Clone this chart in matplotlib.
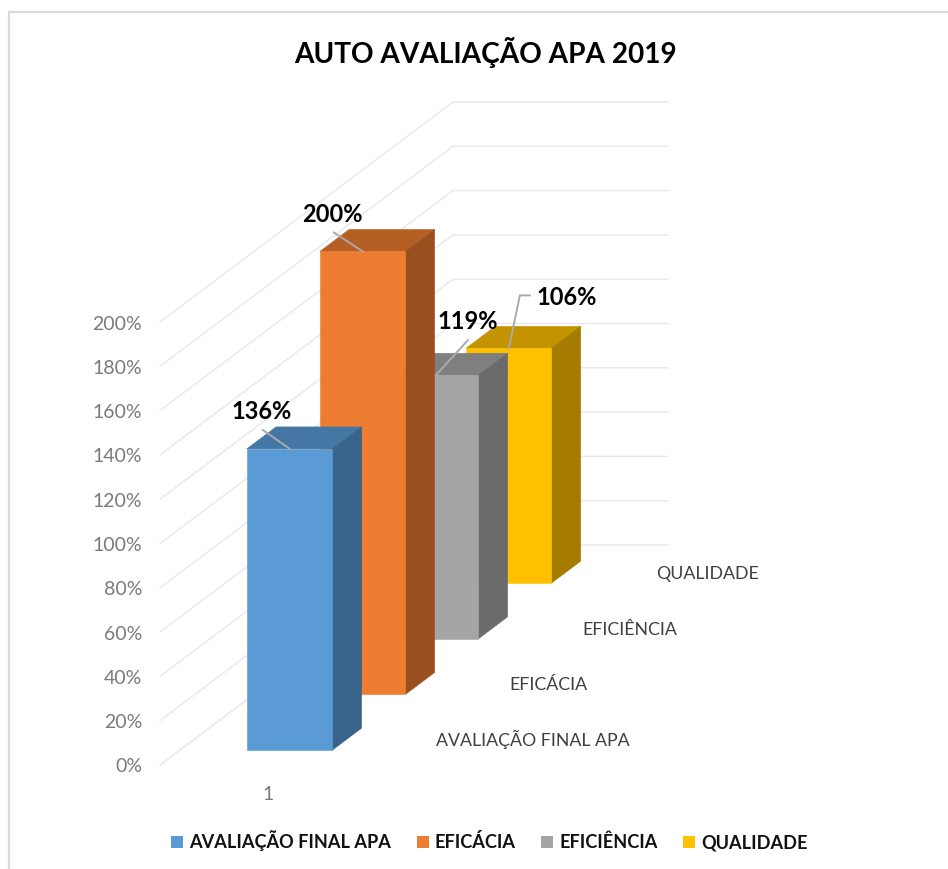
import matplotlib
matplotlib.use("Agg")
import matplotlib.pyplot as plt
from matplotlib.patches import Polygon, Patch
from matplotlib.lines import Line2D

plt.rcParams['font.family'] = ['Lato', 'DejaVu Sans']

title = "AUTO AVALIAÇÃO APA 2019"
series = ["AVALIAÇÃO FINAL APA", "EFICÁCIA", "EFICIÊNCIA", "QUALIDADE"]
values = [136, 200, 119, 106]
labels = ["136%", "200%", "119%", "106%"]
ticks = [0, 20, 40, 60, 80, 100, 120, 140, 160, 180, 200]
colors = ["#5B9BD5", "#ED7D31", "#A5A5A5", "#FFC000"]
top_colors = ["#4577A4", "#B65F25", "#7F7F7F", "#C49300"]
side_colors = ["#38648A", "#9A501E", "#6B6B6B", "#A67C00"]
category = "1"

fig = plt.figure(figsize=(9.48, 8.69), dpi=100, facecolor="white")
ax = fig.add_axes([0, 0, 1, 1])
ax.set_xlim(0, 948)
ax.set_ylim(869, 0)
ax.axis("off")

# oblique projection: x along the category, v = value (%), d = depth (series units)
PX_PER_PCT = 2.215
def proj(x, v, d):
    return (160 + x + 73.25 * d, 765 - PX_PER_PCT * v - 55 * d)

# frame
ax.add_line(Line2D([9.5, 9.5, 948], [869, 12, 12], color="#D9D9D9", lw=1.6))

# walls
for t in ticks:
    p0 = proj(0, t, 0)
    p1 = proj(0, t, 4)
    p2 = proj(215, t, 4)
    ax.add_line(Line2D([p0[0], p1[0], p2[0]], [p0[1], p1[1], p2[1]],
                       color="#E8E8E8", lw=1.0, zorder=1))
    ax.text(142, p0[1] + 2, f"{t}%", ha="right", va="center",
            fontsize=14, color="#7A7A7A", zorder=2)

# bars, back to front
W = 85.5
X0 = 67
D0, DB, STEP = 0.27, 0.40, 1.012
XDRIFT = 1.1
for i in range(len(values) - 1, -1, -1):
    v = values[i]
    a = i * STEP + D0
    b = a + DB
    x0 = X0 - XDRIFT * i
    z = 3 + (len(values) - i)
    for pts, fc in (
        ([proj(x0, v, a), proj(x0 + W, v, a), proj(x0 + W, v, b), proj(x0, v, b)], top_colors[i]),
        ([proj(x0 + W, 0, a), proj(x0 + W, 0, b), proj(x0 + W, v, b), proj(x0 + W, v, a)], side_colors[i]),
        ([proj(x0, 0, a), proj(x0 + W, 0, a), proj(x0 + W, v, a), proj(x0, v, a)], colors[i]),
    ):
        ax.add_patch(Polygon(pts, closed=True, fc=fc, ec=fc, lw=0.4, zorder=z))

# data labels and leader lines
label_offsets = [(-28, -37), (-30, -37), (32, -54), (58, -51)]
leaders = [[(-27, -19), (0, 0)], [(-29, -19), (0, 0)], [(32, -35), (0, 0)],
           [(21, -53), (11, -53), (0, 0)]]
for i, v in enumerate(values):
    p = proj(X0 - XDRIFT * i, v, i * STEP + D0)
    anchor = (p[0] + 43, p[1])
    xs = [anchor[0] + q[0] for q in leaders[i]]
    ys = [anchor[1] + q[1] for q in leaders[i]]
    ax.add_line(Line2D(xs, ys, color="#ABABAB", lw=1.4, zorder=20))
    ax.text(anchor[0] + label_offsets[i][0], anchor[1] + label_offsets[i][1], labels[i],
            ha="center", va="center", fontsize=17, fontweight="bold", color="black", zorder=21)

# depth axis labels
for i, name in enumerate(series):
    y = proj(0, 0, i * STEP)[1] - 19
    ax.text(436 + 73.4 * i, y, name, ha="left", va="baseline", fontsize=12.8, color="#404040")

# category label
ax.text(268, 794, category, ha="center", va="center", fontsize=14, color="#7A7A7A")

# title
ax.text(485.5, 53, title, ha="center", va="center", fontsize=20.2, fontweight="bold", color="black")

# legend
handles = [Patch(fc=c, ec="none", label=s) for c, s in zip(colors, series)]
leg = ax.legend(handles=handles, ncol=4, loc="center", bbox_to_anchor=(489.5, 841),
                bbox_transform=ax.transData, frameon=False,
                prop={"size": 13.05, "weight": "bold"}, labelcolor="#111111",
                handlelength=0.65, handleheight=0.65, handletextpad=0.33,
                columnspacing=1.42, borderpad=0, borderaxespad=0)

fig.savefig("out.png", dpi=100)
